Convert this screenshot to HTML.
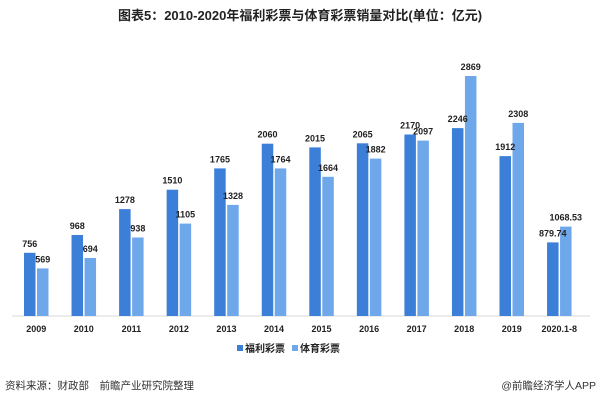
<!DOCTYPE html>
<html><head><meta charset="utf-8"><style>
body{margin:0;width:600px;height:403px;background:#fff;overflow:hidden;}
svg text{font-family:"Liberation Sans","Noto Sans CJK SC",sans-serif;}
.a{fill:#3b7fd9}.b{fill:#6fa8ea}
.v{font-size:9px;font-weight:bold;fill:#222;text-anchor:middle}
</style></head><body>
<svg width="600" height="403" xmlns="http://www.w3.org/2000/svg">
<text x="300" y="20" text-anchor="middle" font-size="13" font-weight="bold" fill="#222">图表5：2010-2020年福利彩票与体育彩票销量对比(单位：亿元)</text>
<line x1="12" y1="316" x2="590" y2="316" stroke="#d9d9d9" stroke-width="1"/>

<g transform="translate(24,0)"><rect class="a" x="0" y="252.8" width="11.5" height="63.2"/><rect class="b" x="13" y="268.4" width="11.5" height="47.6"/><text class="v" x="5.75" y="246.8">756</text><text class="v" x="18.75" y="262.4">569</text><text class="v" x="12.25" y="332">2009</text></g>
<g transform="translate(71.55,0)"><rect class="a" x="0" y="235" width="11.5" height="81"/><rect class="b" x="13" y="258" width="11.5" height="58"/><text class="v" x="5.75" y="229">968</text><text class="v" x="18.75" y="252">694</text><text class="v" x="12.25" y="332">2010</text></g>
<g transform="translate(119.1,0)"><rect class="a" x="0" y="209.1" width="11.5" height="106.9"/><rect class="b" x="13" y="237.5" width="11.5" height="78.5"/><text class="v" x="5.75" y="203.1">1278</text><text class="v" x="18.75" y="231.5">938</text><text class="v" x="12.25" y="332">2011</text></g>
<g transform="translate(166.65,0)"><rect class="a" x="0" y="189.7" width="11.5" height="126.3"/><rect class="b" x="13" y="223.6" width="11.5" height="92.4"/><text class="v" x="5.75" y="183.7">1510</text><text class="v" x="18.75" y="217.6">1105</text><text class="v" x="12.25" y="332">2012</text></g>
<g transform="translate(214.2,0)"><rect class="a" x="0" y="168.4" width="11.5" height="147.6"/><rect class="b" x="13" y="204.9" width="11.5" height="111.1"/><text class="v" x="5.75" y="162.4">1765</text><text class="v" x="18.75" y="198.9">1328</text><text class="v" x="12.25" y="332">2013</text></g>
<g transform="translate(261.75,0)"><rect class="a" x="0" y="143.7" width="11.5" height="172.3"/><rect class="b" x="13" y="168.4" width="11.5" height="147.6"/><text class="v" x="5.75" y="137.7">2060</text><text class="v" x="18.75" y="162.4">1764</text><text class="v" x="12.25" y="332">2014</text></g>
<g transform="translate(309.3,0)"><rect class="a" x="0" y="147.4" width="11.5" height="168.6"/><rect class="b" x="13" y="176.8" width="11.5" height="139.2"/><text class="v" x="5.75" y="141.4">2015</text><text class="v" x="18.75" y="170.8">1664</text><text class="v" x="12.25" y="332">2015</text></g>
<g transform="translate(356.85,0)"><rect class="a" x="0" y="143.3" width="11.5" height="172.7"/><rect class="b" x="13" y="158.6" width="11.5" height="157.4"/><text class="v" x="5.75" y="137.3">2065</text><text class="v" x="18.75" y="152.6">1882</text><text class="v" x="12.25" y="332">2016</text></g>
<g transform="translate(404.4,0)"><rect class="a" x="0" y="134.5" width="11.5" height="181.5"/><rect class="b" x="13" y="140.6" width="11.5" height="175.4"/><text class="v" x="5.75" y="128.5">2170</text><text class="v" x="18.75" y="134.6">2097</text><text class="v" x="12.25" y="332">2017</text></g>
<g transform="translate(451.95,0)"><rect class="a" x="0" y="128.1" width="11.5" height="187.9"/><rect class="b" x="13" y="76" width="11.5" height="240"/><text class="v" x="5.75" y="122.1">2246</text><text class="v" x="18.75" y="70">2869</text><text class="v" x="12.25" y="332">2018</text></g>
<g transform="translate(499.5,0)"><rect class="a" x="0" y="156.1" width="11.5" height="159.9"/><rect class="b" x="13" y="122.9" width="11.5" height="193.1"/><text class="v" x="5.75" y="150.1">1912</text><text class="v" x="18.75" y="116.9">2308</text><text class="v" x="12.25" y="332">2019</text></g>
<g transform="translate(547.05,0)"><rect class="a" x="0" y="242.4" width="11.5" height="73.6"/><rect class="b" x="13" y="226.6" width="11.5" height="89.4"/><text class="v" x="5.75" y="236.4">879.74</text><text class="v" x="18.75" y="220.6">1068.53</text><text class="v" x="12.25" y="332">2020.1-8</text></g>

<rect x="237" y="345" width="6" height="6" class="a"/>
<text x="245" y="352" font-size="10" font-weight="bold" fill="#222">福利彩票</text>
<rect x="292" y="345" width="6" height="6" class="b"/>
<text x="300" y="352" font-size="10" font-weight="bold" fill="#222">体育彩票</text>
<text x="5" y="389" font-size="10.5" fill="#333">资料来源：财政部　前瞻产业研究院整理</text>
<text x="596" y="389" font-size="10.5" fill="#333" text-anchor="end">@前瞻经济学人APP</text>
</svg>
</body></html>
